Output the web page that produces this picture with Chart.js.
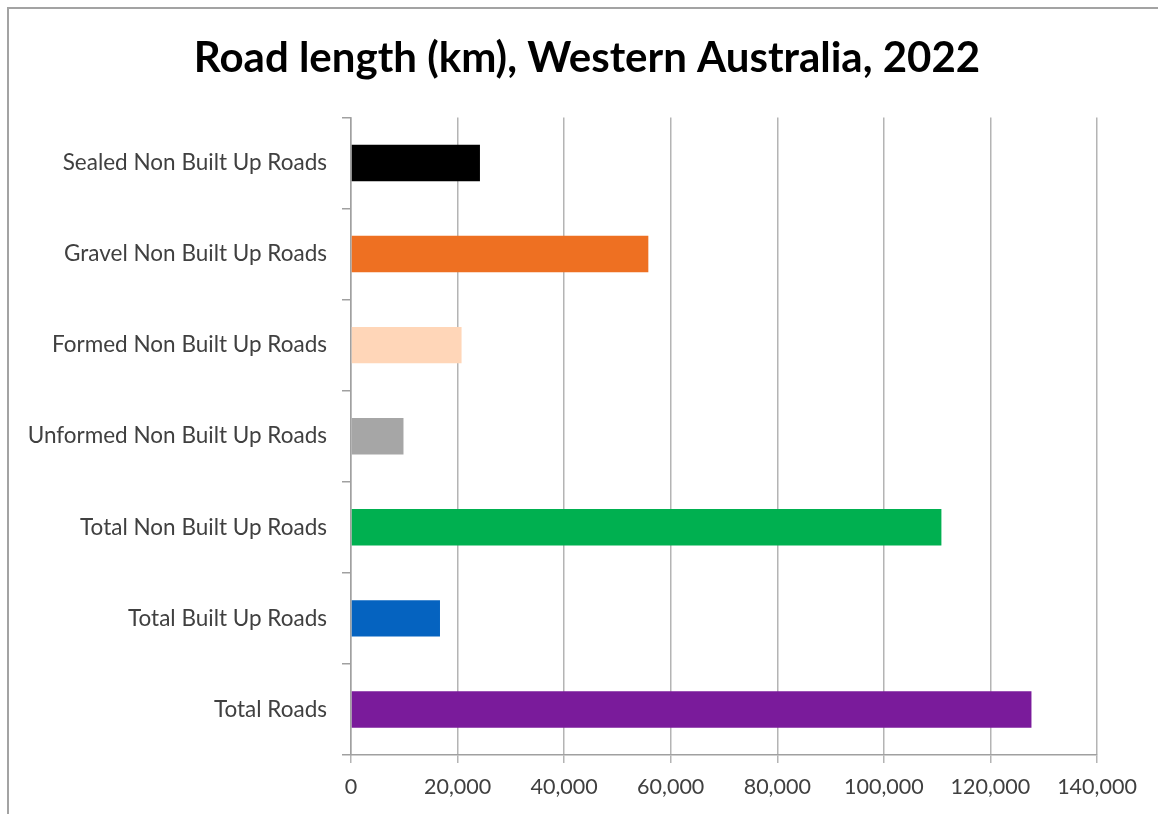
<!DOCTYPE html>
<html>
<head>
<meta charset="utf-8">
<script src="https://cdn.jsdelivr.net/npm/chart.js@4/dist/chart.umd.min.js"></script>
<style>
  html, body { margin: 0; padding: 0; background: #fff; }
  #wrap { position: relative; width: 1158px; height: 814px; overflow: hidden; }
  #frame { position: absolute; left: 7px; top: 7px; width: 1200px; height: 900px;
           border-left: 2px solid #a3a3a3; border-top: 2px solid #a3a3a3; pointer-events: none; }
  canvas { position: absolute; left: 0; top: 0; }
</style>
</head>
<body>
<div id="wrap">
  <canvas id="roadChart" width="1158" height="814"></canvas>
  <div id="frame"></div>
</div>
<script>
const roadTypes = [
  "Sealed Non Built Up Roads",
  "Gravel Non Built Up Roads",
  "Formed Non Built Up Roads",
  "Unformed Non Built Up Roads",
  "Total Non Built Up Roads",
  "Total Built Up Roads",
  "Total Roads"
];
const roadLengthKm = [24200, 55800, 20750, 9850, 110800, 16700, 127700];
const barColours = ["#000000", "#ee7022", "#ffd6b8", "#a6a6a6", "#00b050", "#0563c0", "#7a1b9b"];
const xTicks = [0, 20000, 40000, 60000, 80000, 100000, 120000, 140000];

// chart area is pinned to the reference plot box (351..1097 x 117..755)
const leftPad = 16;

let ctx = document.getElementById("roadChart").getContext("2d");
let roadChart = new Chart(ctx, {
  type: "bar",
  data: {
    labels: roadTypes,
    datasets: [{
      label: "Road length (km)",
      data: roadLengthKm,
      backgroundColor: barColours,
      borderWidth: 0,
      categoryPercentage: 1,
      barPercentage: 0.4
    }]
  },
  options: {
    indexAxis: "y",
    responsive: false,
    animation: false,
    layout: { padding: { left: leftPad, right: 0, top: 0, bottom: 0 } },
    plugins: {
      legend: { display: false },
      tooltip: { enabled: false },
      title: {
        display: true,
        text: "Road length (km), Western Australia, 2022",
        color: "#000",
        font: { family: "Lato", size: 42, weight: "bold" },
        padding: { top: 33, bottom: 34 }
      }
    },
    scales: {
      x: {
        min: xTicks[0],
        max: xTicks[xTicks.length - 1],
        afterBuildTicks: (scale) => { scale.ticks = xTicks.map(v => ({ value: v })); },
        afterFit: (scale) => { scale.height = 59; scale.paddingRight = 61; },
        grid: { color: "#b4b4b4", lineWidth: 1.5, tickLength: 8, drawTicks: true },
        border: { display: true, color: "#a0a0a0", width: 1.5 },
        ticks: {
          color: "#404040",
          font: { family: "Lato", size: 21.5 },
          padding: 11,
          maxRotation: 0,
          callback: (v) => Number(v).toLocaleString("en-US")
        }
      },
      y: {
        afterFit: (scale) => { scale.width = 351 - leftPad; },
        grid: { drawOnChartArea: false, color: "#a0a0a0", lineWidth: 1.5, tickLength: 9, offset: true },
        border: { display: true, color: "#a0a0a0", width: 1.5 },
        ticks: {
          color: "#404040",
          font: { family: "Lato", size: 22.5 },
          padding: 15
        }
      }
    }
  }
});
</script>
</body>
</html>
